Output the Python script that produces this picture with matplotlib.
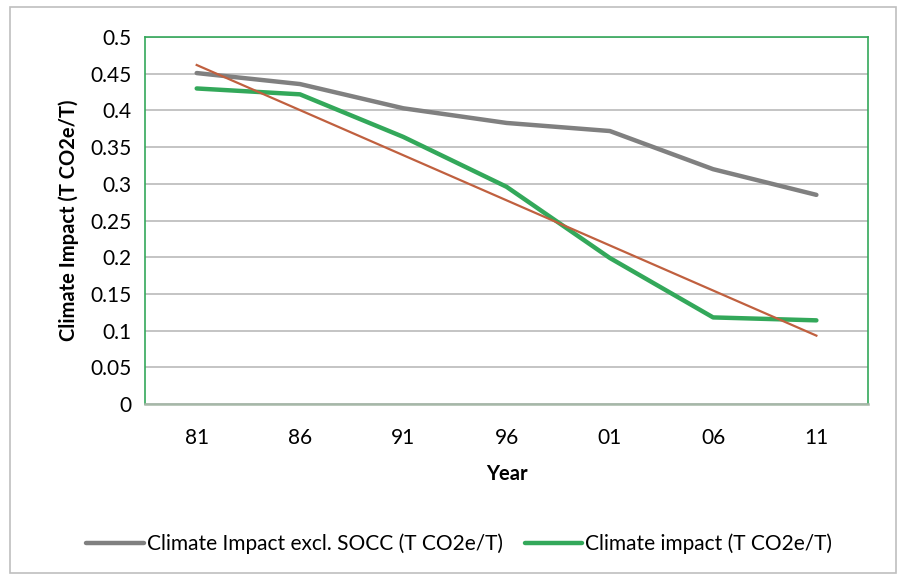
import numpy as np
import matplotlib.pyplot as plt
from matplotlib.patches import Rectangle

years = ["81", "86", "91", "96", "01", "06", "11"]
excl_socc = [0.451, 0.436, 0.403, 0.383, 0.372, 0.320, 0.285]
impact = [0.430, 0.422, 0.364, 0.296, 0.199, 0.118, 0.114]

plt.rcParams['font.family'] = ['Lato', 'DejaVu Sans']

fig = plt.figure(figsize=(8.97, 5.76), dpi=100)
ax = fig.add_axes([0.1617, 0.2986, 0.806, 0.637])

x = np.arange(len(years))
l1, = ax.plot(x, excl_socc, color="#808080", lw=3.2, solid_capstyle="round",
              label="Climate Impact excl. SOCC (T CO2e/T)", zorder=3)
l2, = ax.plot(x, impact, color="#33A85A", lw=3.2, solid_capstyle="round",
              label="Climate impact (T CO2e/T)", zorder=4)

# linear trend of the climate impact series
k, b = np.polyfit(x, impact, 1)
ax.plot(x, k * x + b, color="#C0603F", lw=1.6, zorder=5)

ax.set_xlim(-0.5, len(years) - 0.5)
ax.set_ylim(0, 0.5)
ax.set_yticks(np.arange(0, 0.501, 0.05))
ax.set_yticklabels(["0", "0.05", "0.1", "0.15", "0.2", "0.25", "0.3", "0.35",
                    "0.4", "0.45", "0.5"])
ax.set_xticks(x)
ax.set_xticklabels(years)
ax.tick_params(axis="both", length=0, labelsize=15, colors="#000000")
ax.tick_params(axis="y", pad=10)
ax.tick_params(axis="x", pad=17)
ax.yaxis.grid(True, color="#BFBFBF", lw=1.3)
ax.set_axisbelow(True)
for s in ax.spines.values():
    s.set_color("#33A85A")
    s.set_linewidth(1.2)
ax.spines["bottom"].set_color("#A6B8A8")
ax.spines["bottom"].set_linewidth(1.8)

ax.set_ylabel("Climate Impact (T CO2e/T)", fontsize=14.5, fontweight="bold", labelpad=8)
ax.set_xlabel("Year", fontsize=14.5, fontweight="bold", labelpad=12)

fig.legend(handles=[l1, l2], loc="center", bbox_to_anchor=(0.512, 0.056), ncol=2,
           frameon=False, fontsize=15, handlelength=2.75, handletextpad=0.15,
           columnspacing=1.05)

fig.patches.append(Rectangle((10 / 897, 3 / 576), 886 / 897, 566 / 576,
                             transform=fig.transFigure, fill=False,
                             edgecolor="#BFBFBF", lw=1.2))

fig.savefig("out.png", dpi=100)
